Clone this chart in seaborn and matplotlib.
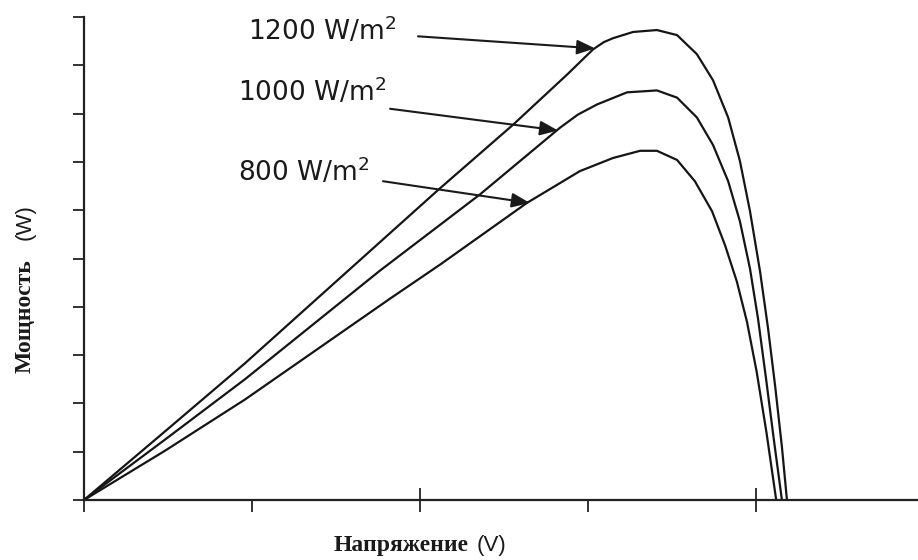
import numpy as np
import pandas as pd
import matplotlib
matplotlib.use("Agg")
import matplotlib.pyplot as plt
import seaborn as sns

# P-V curves (V in volts, P in watts)
v_1200 = [0, 2.41, 4.79, 8.57, 10.54, 12.77, 14.38, 15.15, 15.47, 15.74, 16.34, 17.05, 17.65, 18.24,
          18.72, 19.17, 19.52, 19.82, 20.12, 20.36, 20.57, 20.77, 20.92]
p_1200 = [0, 14.2, 28.3, 51.9, 64.2, 77.7, 88.1, 93.3, 94.8, 95.6, 96.9, 97.3, 96.25, 92.3,
          86.9, 79.2, 70.2, 59.8, 47.3, 35.4, 23.5, 11.0, 0]

v_1000 = [0, 2.41, 4.79, 8.81, 11.79, 14.17, 14.70, 15.27, 16.16, 17.05, 17.65, 18.24, 18.72, 19.17,
          19.52, 19.82, 20.06, 20.30, 20.53, 20.77]
p_1000 = [0, 12.5, 25.0, 47.5, 63.3, 77.1, 79.8, 81.9, 84.4, 84.8, 83.3, 79.2, 73.5, 66.0,
          57.7, 47.9, 37.5, 25.0, 12.5, 0]

v_800 = [0, 2.41, 4.79, 9.11, 10.60, 13.18, 14.76, 15.74, 16.55, 17.05, 17.65, 18.18, 18.69,
         19.08, 19.43, 19.73, 20.02, 20.31, 20.60]
p_800 = [0, 10.2, 20.8, 41.7, 48.75, 61.5, 68.1, 70.8, 72.3, 72.3, 70.4, 66.0, 59.8,
         52.7, 45.2, 36.9, 26.5, 14.0, 0]

labels = ["1200 W/m$^{2}$", "1000 W/m$^{2}$", "800 W/m$^{2}$"]

frames = []
for g, v, p in [("1200", v_1200, p_1200), ("1000", v_1000, p_1000), ("800", v_800, p_800)]:
    frames.append(pd.DataFrame({"V": v, "P": p, "G": g}))
df = pd.concat(frames, ignore_index=True)

sns.set_theme(style="white")
plt.rcParams["font.family"] = ["DejaVu Sans"]
plt.rcParams["mathtext.default"] = "regular"

fig = plt.figure(figsize=(9.18, 5.6), dpi=100)
ax = fig.add_axes([84 / 918, 60 / 560, 1 - 84 / 918, 483 / 560])

sns.lineplot(data=df, x="V", y="P", units="G", estimator=None, sort=False,
             color="#151515", lw=1.6, ax=ax)
for ln in ax.get_lines():
    ln.set_solid_joinstyle("round")

ax.set_xlim(0, 24.82)
ax.set_ylim(0, 100)
ax.set_xlabel("")
ax.set_ylabel("")

for s in ["top", "right"]:
    ax.spines[s].set_visible(False)
for s in ["left", "bottom"]:
    ax.spines[s].set_color("#222222")
    ax.spines[s].set_linewidth(1.6)

ax.set_xticks([0, 10, 20])
ax.set_xticks([5, 15], minor=True)
ax.set_yticks(np.arange(0, 101, 10))
ax.tick_params(axis="x", which="major", direction="inout", length=17, width=1.3,
               color="#222222", labelbottom=False, bottom=True)
ax.tick_params(axis="x", which="minor", direction="out", length=8.5, width=1.3,
               color="#222222", bottom=True)
ax.tick_params(axis="y", which="major", direction="out", length=8, width=1.3,
               color="#222222", labelleft=False, left=True)

# irradiance labels and arrows
text_pos = [(4.88, 95.2), (4.58, 82.7), (4.58, 66.0)]
arrow_start = [(9.94, 96.0), (9.11, 81.0), (8.9, 66.0)]
arrow_tip = [(15.21, 93.5), (14.11, 76.5), (13.27, 61.5)]
for lab, tp, a0, a1 in zip(labels, text_pos, arrow_start, arrow_tip):
    ax.text(tp[0], tp[1], lab, fontsize=19, va="baseline", ha="left", color="#1a1a1a")
    ax.annotate("", xy=a1, xytext=a0,
                arrowprops=dict(arrowstyle="-|>,head_length=0.5,head_width=0.2", lw=1.5,
                                color="#1a1a1a", mutation_scale=22, shrinkA=0, shrinkB=0))

# axis labels: bold serif word + sans unit
fig.text(25 / 918, 1 - 316 / 560, "Мощность", rotation=90, ha="center", va="center",
         family="Liberation Serif", fontweight="bold", fontsize=17, color="#1a1a1a")
fig.text(25 / 918, 1 - 222 / 560, "(W)", rotation=90, ha="center", va="center",
         family="Liberation Sans", fontsize=16, color="#1a1a1a")
fig.text(401 / 918, 1 - 546 / 560, "Напряжение", ha="center", va="center",
         family="Liberation Serif", fontweight="bold", fontsize=17, color="#1a1a1a")
fig.text(491 / 918, 1 - 546 / 560, "(V)", ha="center", va="center",
         family="Liberation Sans", fontsize=16, color="#1a1a1a")

fig.savefig("out.png", dpi=100)
